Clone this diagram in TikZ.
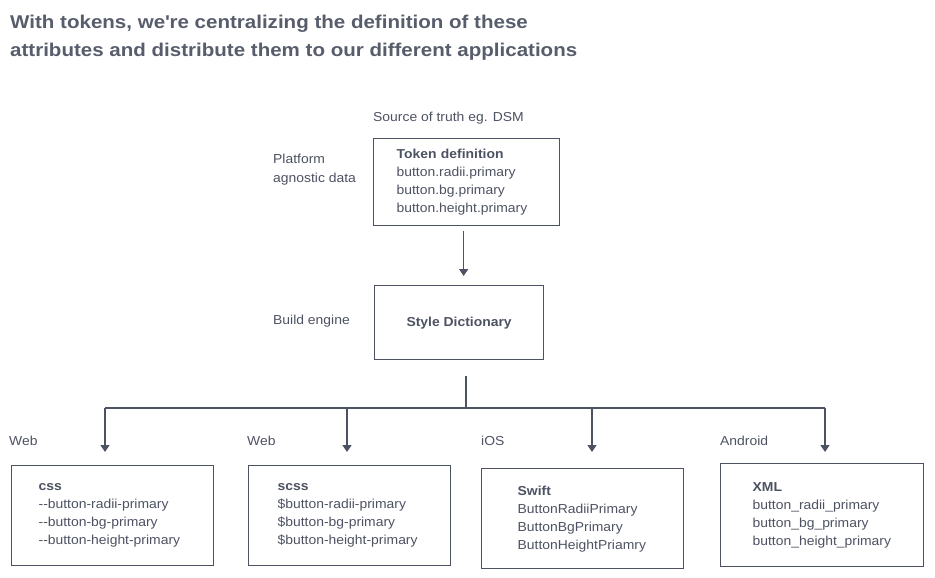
\documentclass[tikz,border=0pt]{standalone}
\usepackage{fontspec}
\setmainfont{Liberation Sans}[FakeStretch=1.07]
\newfontfamily\headfont{Liberation Sans}[FakeStretch=1.11]
\usepackage{xcolor}
\usetikzlibrary{arrows.meta}
\definecolor{ink}{RGB}{77,82,98}
\definecolor{headline}{RGB}{88,93,108}

\begin{document}
\begin{tikzpicture}[x=1pt, y=-1pt]
            \tikzstyle{Box} = [draw=ink, line width=1.3pt, rectangle, anchor=north west, inner ysep=0pt, align=left, text=ink, font=\fontsize{13}{18}\selectfont]
            \tikzstyle{Label} = [anchor=west, inner sep=0pt, align=left, text=ink, font=\fontsize{13}{19}\selectfont]
            \tikzstyle{Edge} = [draw=ink, line width=1.5pt]
            \tikzstyle{Arrow} = [Edge, -{Triangle[width=9pt, length=7pt]}]
            \useasboundingbox (0,0) rectangle (935,578);
            % title
            \node[anchor=north west, inner sep=0pt, align=left, text=headline, font=\headfont\fontsize{18.5}{28}\selectfont\bfseries] (title) at (10,15)
                {With tokens, we\textquotesingle re centralizing the definition of these\\attributes and distribute them to our different applications};
            % source of truth
            \node[Label] (source) at (373,118) {Source of truth eg. DSM};
            \node[Label] (agnostic) at (273,170) {Platform\\agnostic data};
            \node[Box, minimum width=186, minimum height=87, inner xsep=23pt, text width=140pt] (tokens) at (373,138)
                {\textbf{Token definition}\\button.radii.primary\\button.bg.primary\\button.height.primary};
            % build engine
            \node[Label] (engine) at (273,321) {Build engine};
            \node[Box, minimum width=169, minimum height=74, align=center, font=\fontsize{13}{18}\selectfont\bfseries] (dictionary) at (374,285) {Style Dictionary};
            % platforms
            \node[Label] (web1) at (9,441) {Web};
            \node[Label] (web2) at (247,441) {Web};
            \node[Label] (ios) at (481,441) {iOS};
            \node[Label] (android) at (720,441) {Android};
            \node[Box, minimum width=202, minimum height=100, inner xsep=27pt, text width=148pt] (css) at (11,465)
                {\textbf{css}\\-{}-button-radii-primary\\-{}-button-bg-primary\\-{}-button-height-primary};
            \node[Box, minimum width=202, minimum height=100, inner xsep=29pt, text width=144pt] (scss) at (248,465)
                {\textbf{scss}\\\$button-radii-primary\\\$button-bg-primary\\\$button-height-primary};
            \node[Box, minimum width=202, minimum height=100, inner xsep=36pt, text width=130pt] (swift) at (481,468)
                {\textbf{Swift}\\ButtonRadiiPrimary\\ButtonBgPrimary\\ButtonHeightPriamry};
            \node[Box, minimum width=203, minimum height=103, inner xsep=32pt, text width=139pt] (xml) at (720,463)
                {\textbf{XML}\\button\_radii\_primary\\button\_bg\_primary\\button\_height\_primary};
            % connectors
            \coordinate (split) at (466,408);
            \coordinate (toCss) at (105,408);
            \coordinate (toScss) at (347,408);
            \coordinate (toSwift) at (592,408);
            \coordinate (toXml) at (825,408);
            \draw[Arrow, shorten <=5pt, shorten >=9pt] ([xshift=-3pt]tokens.south) -- ([xshift=-3pt]tokens.south |- dictionary.north);
            \draw[Edge, shorten >=16pt] (split) -- (split |- dictionary.south);
            \draw[Edge] (toCss) -- (toXml);
            \draw[Arrow, shorten >=13pt] (toCss) -- (toCss |- css.north);
            \draw[Arrow, shorten >=13pt] (toScss) -- (toScss |- scss.north);
            \draw[Arrow, shorten >=16pt] (toSwift) -- (toSwift |- swift.north);
            \draw[Arrow, shorten >=11pt] (toXml) -- (toXml |- xml.north);
        \end{tikzpicture}
\end{document}
